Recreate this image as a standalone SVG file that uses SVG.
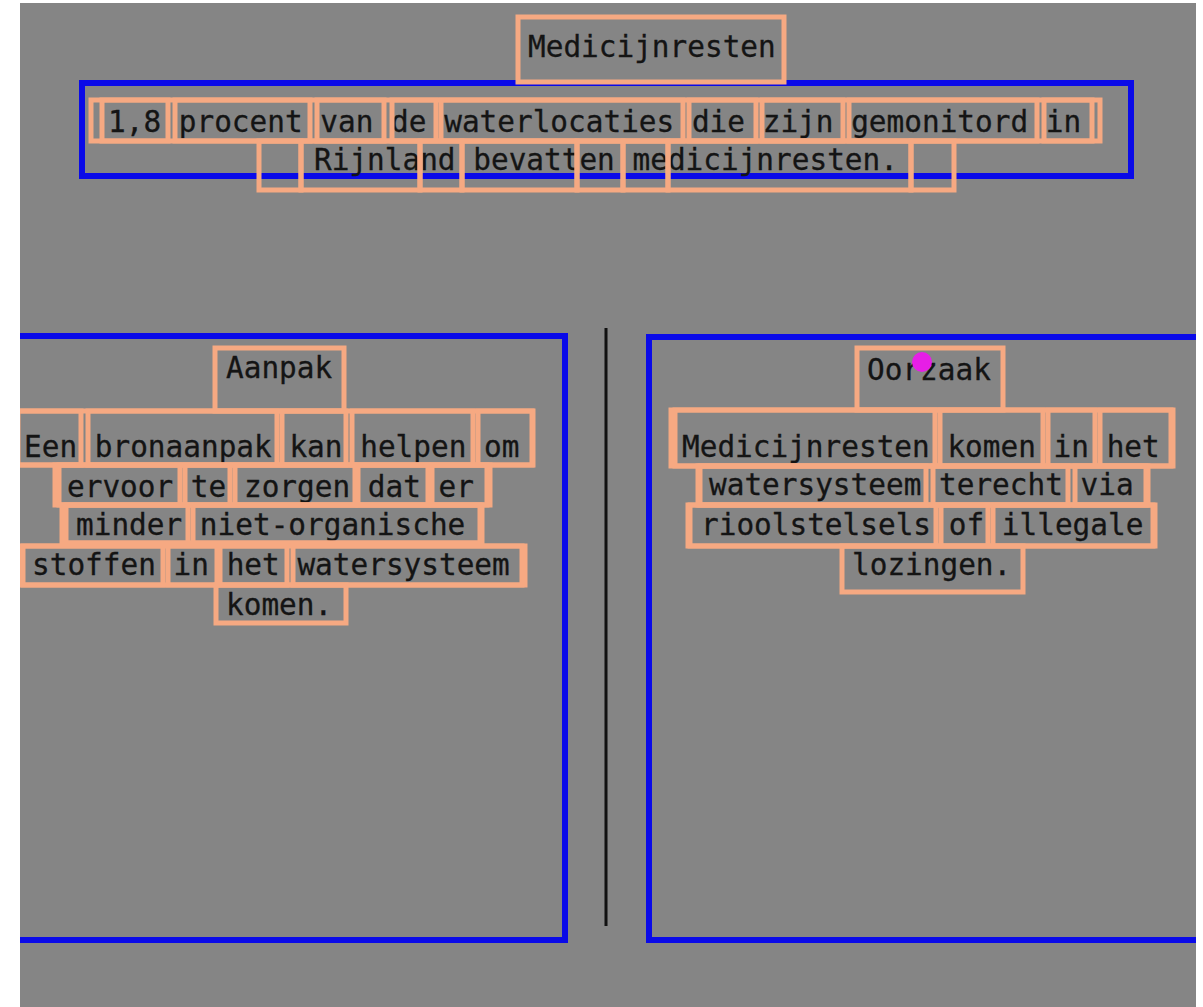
<svg xmlns="http://www.w3.org/2000/svg" width="1203" height="1007" viewBox="0 0 1203 1007">
<style>
.bg{fill:#858585}
.blue{fill:none;stroke:#0a0ae8;stroke-width:6}
.ob{fill:none;stroke:#f6a982;stroke-width:5}
.t{font-family:"DejaVu Sans Mono","Liberation Mono",monospace;font-size:29.4px;fill:#141414;stroke:#141414;stroke-width:0.3}
.div{stroke:#111;stroke-width:3}
</style>
<rect width="1203" height="1007" fill="#ffffff"/>
<rect class="bg" x="20" y="3" width="1176" height="1004"/>

<g id="node-summary">
<rect class="blue" x="82" y="83" width="1049" height="93"/>
<text class="t" x="108" y="132">1,8 procent van de waterlocaties die zijn gemonitord in</text>
<text class="t" x="314" y="170">Rijnland bevatten medicijnresten.</text>
<rect class="ob" x="91" y="100" width="1009" height="41"/>
<rect class="ob" x="102" y="100" width="66" height="41"/>
<rect class="ob" x="175" y="100" width="135" height="41"/>
<rect class="ob" x="317" y="100" width="67" height="41"/>
<rect class="ob" x="392" y="100" width="44" height="41"/>
<rect class="ob" x="441" y="100" width="242" height="41"/>
<rect class="ob" x="689" y="100" width="67" height="41"/>
<rect class="ob" x="762" y="100" width="81" height="41"/>
<rect class="ob" x="849" y="100" width="188" height="41"/>
<rect class="ob" x="1044" y="100" width="48" height="41"/>
<rect class="ob" x="259" y="141" width="42" height="49"/>
<rect class="ob" x="301" y="141" width="119" height="49"/>
<rect class="ob" x="420" y="141" width="42" height="49"/>
<rect class="ob" x="462" y="141" width="115" height="49"/>
<rect class="ob" x="577" y="141" width="46" height="49"/>
<rect class="ob" x="623" y="141" width="45" height="49"/>
<rect class="ob" x="668" y="141" width="243" height="49"/>
<rect class="ob" x="911" y="141" width="43" height="49"/>
</g>

<g id="node-title">
<text class="t" x="528" y="57">Medicijnresten</text>
<rect class="ob" x="518" y="17" width="266" height="65"/>
</g>

<g id="node-aanpak">
<rect class="blue" x="-10" y="336" width="575" height="604"/>
<text class="t" x="226" y="378">Aanpak</text>
<rect class="ob" x="215" y="348" width="129" height="63"/>
<text class="t" x="24" y="457">Een bronaanpak kan helpen om</text>
<text class="t" x="67" y="497">ervoor te zorgen dat er</text>
<text class="t" x="76" y="535">minder niet-organische</text>
<text class="t" x="32" y="575">stoffen in het watersysteem</text>
<text class="t" x="226" y="615">komen.</text>
<rect class="ob" x="16" y="411" width="517" height="54"/>
<rect class="ob" x="18" y="411" width="63" height="54"/>
<rect class="ob" x="88" y="411" width="189" height="54"/>
<rect class="ob" x="282" y="411" width="64" height="54"/>
<rect class="ob" x="352" y="411" width="121" height="54"/>
<rect class="ob" x="478" y="411" width="54" height="54"/>
<rect class="ob" x="55" y="465" width="435" height="40"/>
<rect class="ob" x="59" y="465" width="121" height="40"/>
<rect class="ob" x="185" y="465" width="45" height="40"/>
<rect class="ob" x="235" y="465" width="120" height="40"/>
<rect class="ob" x="358" y="465" width="70" height="40"/>
<rect class="ob" x="432" y="465" width="55" height="40"/>
<rect class="ob" x="62" y="505" width="420" height="38"/>
<rect class="ob" x="66" y="505" width="122" height="38"/>
<rect class="ob" x="193" y="505" width="287" height="38"/>
<rect class="ob" x="21" y="546" width="504" height="39"/>
<rect class="ob" x="23" y="546" width="140" height="39"/>
<rect class="ob" x="168" y="546" width="49" height="39"/>
<rect class="ob" x="220" y="546" width="67" height="39"/>
<rect class="ob" x="293" y="546" width="229" height="39"/>
<rect class="ob" x="216" y="585" width="130" height="38"/>
</g>

<g id="node-oorzaak">
<rect class="blue" x="649" y="337" width="570" height="603"/>
<text class="t" x="867" y="380">Oorzaak</text>
<rect class="ob" x="857" y="348" width="146" height="62"/>
<text class="t" x="682" y="457">Medicijnresten komen in het</text>
<text class="t" x="709" y="495">watersysteem terecht via</text>
<text class="t" x="701" y="535">rioolstelsels of illegale</text>
<text class="t" x="852" y="575">lozingen.</text>
<rect class="ob" x="671" y="410" width="502" height="56"/>
<rect class="ob" x="675" y="410" width="260" height="56"/>
<rect class="ob" x="940" y="410" width="103" height="56"/>
<rect class="ob" x="1048" y="410" width="47" height="56"/>
<rect class="ob" x="1100" y="410" width="71" height="56"/>
<rect class="ob" x="698" y="466" width="450" height="39"/>
<rect class="ob" x="700" y="466" width="226" height="39"/>
<rect class="ob" x="933" y="466" width="135" height="39"/>
<rect class="ob" x="1075" y="466" width="71" height="39"/>
<rect class="ob" x="688" y="505" width="467" height="41"/>
<rect class="ob" x="690" y="505" width="246" height="41"/>
<rect class="ob" x="941" y="505" width="47" height="41"/>
<rect class="ob" x="993" y="505" width="160" height="41"/>
<rect class="ob" x="842" y="546" width="181" height="46"/>
<circle cx="922" cy="362" r="10" fill="#e61ee6"/>
</g>

<g id="connectors">
<line class="div" x1="606" y1="328" x2="606" y2="926"/>
</g>

<rect x="0" y="0" width="20" height="1007" fill="#ffffff"/>
<rect x="0" y="0" width="1203" height="3" fill="#ffffff"/>
<rect x="1196" y="0" width="7" height="1007" fill="#ffffff"/>
</svg>
